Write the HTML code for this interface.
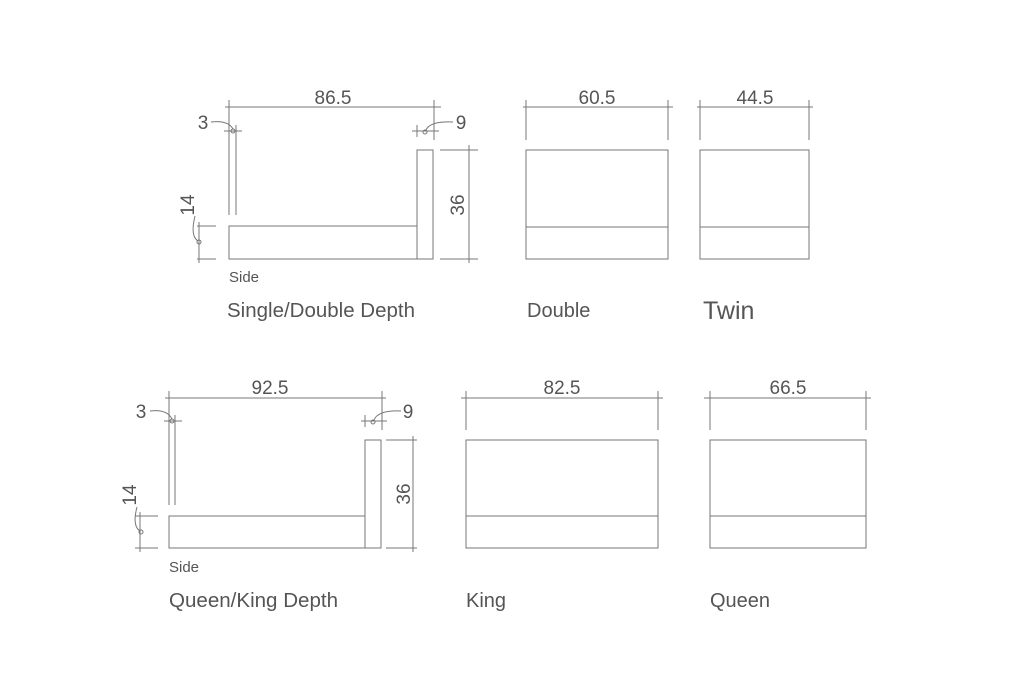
<!DOCTYPE html>
<html><head><meta charset="utf-8"><style>
html,body{margin:0;padding:0;background:#fff;}
svg{display:block;}
text{font-family:"Liberation Sans",sans-serif;fill:#555;}
</style></head><body>
<svg width="1031" height="700" viewBox="0 0 1031 700" xmlns="http://www.w3.org/2000/svg">
<g stroke="#777" stroke-width="1" fill="none">
<!-- TOP LEFT -->
<line x1="225" y1="107" x2="441" y2="107"/>
<line x1="229" y1="100" x2="229" y2="215"/>
<line x1="236" y1="125" x2="236" y2="215"/>
<line x1="434" y1="100" x2="434" y2="140"/>
<line x1="224" y1="131" x2="242" y2="131"/>
<line x1="412" y1="131" x2="439" y2="131"/>
<line x1="417" y1="125" x2="417" y2="137"/>
<circle cx="233" cy="131" r="2"/>
<circle cx="425" cy="132" r="2"/>
<path d="M211 122 Q228 120 233 129"/>
<path d="M453 122 Q430 121 426 130"/>
<rect x="229" y="226" width="188" height="33"/>
<rect x="417" y="150" width="16" height="109"/>
<line x1="440" y1="150" x2="478" y2="150"/>
<line x1="440" y1="259" x2="478" y2="259"/>
<line x1="469" y1="145" x2="469" y2="263"/>
<line x1="197" y1="226" x2="216" y2="226"/>
<line x1="197" y1="259" x2="216" y2="259"/>
<line x1="199" y1="222" x2="199" y2="263"/>
<circle cx="199" cy="242" r="2"/>
<path d="M195 216 Q190 236 198 241"/>
<!-- DOUBLE -->
<line x1="523" y1="107" x2="673" y2="107"/>
<line x1="526" y1="100" x2="526" y2="140"/>
<line x1="668" y1="100" x2="668" y2="140"/>
<rect x="526" y="150" width="142" height="109"/>
<line x1="526" y1="227" x2="668" y2="227"/>
<!-- TWIN -->
<line x1="697" y1="107" x2="813" y2="107"/>
<line x1="700" y1="100" x2="700" y2="140"/>
<line x1="809" y1="100" x2="809" y2="140"/>
<rect x="700" y="150" width="109" height="109"/>
<line x1="700" y1="227" x2="809" y2="227"/>
<!-- BOTTOM LEFT -->
<line x1="165" y1="398" x2="386" y2="398"/>
<line x1="169" y1="391" x2="169" y2="505"/>
<line x1="175" y1="415" x2="175" y2="505"/>
<line x1="382" y1="391" x2="382" y2="430"/>
<line x1="164" y1="421" x2="182" y2="421"/>
<line x1="361" y1="421" x2="387" y2="421"/>
<line x1="365" y1="415" x2="365" y2="427"/>
<circle cx="172" cy="421" r="2"/>
<circle cx="373" cy="422" r="2"/>
<path d="M150 411 Q167 409 172 419"/>
<path d="M401 411 Q378 410 374 420"/>
<rect x="169" y="516" width="196" height="32"/>
<rect x="365" y="440" width="16" height="108"/>
<line x1="386" y1="440" x2="417" y2="440"/>
<line x1="386" y1="548" x2="417" y2="548"/>
<line x1="413" y1="436" x2="413" y2="552"/>
<line x1="135" y1="516" x2="158" y2="516"/>
<line x1="135" y1="548" x2="158" y2="548"/>
<line x1="140" y1="512" x2="140" y2="552"/>
<circle cx="141" cy="532" r="2"/>
<path d="M137 507 Q132 526 140 531"/>
<!-- KING -->
<line x1="461" y1="398" x2="663" y2="398"/>
<line x1="466" y1="391" x2="466" y2="430"/>
<line x1="658" y1="391" x2="658" y2="430"/>
<rect x="466" y="440" width="192" height="108"/>
<line x1="466" y1="516" x2="658" y2="516"/>
<!-- QUEEN -->
<line x1="704" y1="398" x2="871" y2="398"/>
<line x1="710" y1="391" x2="710" y2="430"/>
<line x1="866" y1="391" x2="866" y2="430"/>
<rect x="710" y="440" width="156" height="108"/>
<line x1="710" y1="516" x2="866" y2="516"/>
</g>
<g font-size="19">
<text x="333" y="104" text-anchor="middle">86.5</text>
<text x="597" y="104" text-anchor="middle">60.5</text>
<text x="755" y="104" text-anchor="middle">44.5</text>
<text x="203" y="129" text-anchor="middle">3</text>
<text x="461" y="129" text-anchor="middle">9</text>
<text transform="translate(464,205) rotate(-90)" text-anchor="middle">36</text>
<text transform="translate(194,205) rotate(-90)" text-anchor="middle">14</text>
<text x="270" y="394" text-anchor="middle">92.5</text>
<text x="562" y="394" text-anchor="middle">82.5</text>
<text x="788" y="394" text-anchor="middle">66.5</text>
<text x="141" y="418" text-anchor="middle">3</text>
<text x="408" y="418" text-anchor="middle">9</text>
<text transform="translate(410,494) rotate(-90)" text-anchor="middle">36</text>
<text transform="translate(136,495) rotate(-90)" text-anchor="middle">14</text>
</g>
<g font-size="15">
<text x="229" y="282">Side</text>
<text x="169" y="572">Side</text>
</g>
<g font-size="20">
<text x="227" y="317" textLength="188" lengthAdjust="spacingAndGlyphs">Single/Double Depth</text>
<text x="527" y="317">Double</text>
<text x="703" y="319" font-size="25">Twin</text>
<text x="169" y="607" textLength="169" lengthAdjust="spacingAndGlyphs">Queen/King Depth</text>
<text x="466" y="607">King</text>
<text x="710" y="607">Queen</text>
</g>
</svg>
</body></html>
